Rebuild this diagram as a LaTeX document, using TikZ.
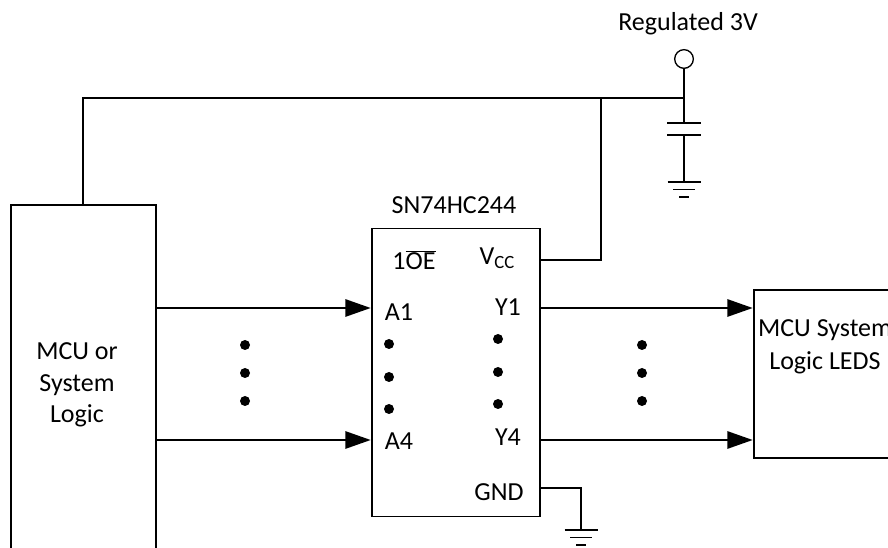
\documentclass[tikz,border=0pt]{standalone}
\usepackage{fontspec}
\setmainfont{Carlito}
\usetikzlibrary{arrows.meta}
\tikzset{
  x=0.75pt,y=-0.75pt,
  wire/.style={line width=1.4pt,line cap=rect},
  thinwire/.style={line width=1.05pt},
  arrowwire/.style={wire,-{Triangle[length=19pt,width=13pt,inset=0pt]},shorten >=1pt},
  blk/.style={draw,line width=1.4pt,outer sep=0pt,inner sep=0pt},
  lbl/.style={inner sep=0pt,font=\fontsize{19.5}{24}\selectfont},
  dotn/.style={circle,fill=black,inner sep=0pt,minimum size=7.5pt},
  gndsym/.pic={
    \draw[thinwire] (-16.5,0)--(16.5,0);
    \draw[thinwire] (-11,7.5)--(11,7.5);
    \draw[thinwire] (-5,15)--(5,15);
  }
}
\begin{document}
\begin{tikzpicture}
\useasboundingbox (0,0) rectangle (888,548);
\clip (0,0) rectangle (888,548);
% blocks
\node[blk,minimum width=108.75pt,minimum height=300pt,anchor=north west] (mcu) at (11,205) {};
\node[blk,minimum width=126pt,minimum height=216pt,anchor=north west] (ic) at (372,228.5) {};
\node[blk,minimum width=150pt,minimum height=126pt,anchor=north west] (led) at (754,290) {};
% labels
\node[lbl,align=center,font=\fontsize{19.5}{23.6}\selectfont] (mcut) at (77,385) {MCU or\\System\\Logic};
\node[lbl,align=center,font=\fontsize{19.5}{25}\selectfont] (ledt) at (825,347) {MCU System\\Logic LEDS};
\node[lbl] (reg) at (688,24) {Regulated 3V};
\node[lbl] (part) at (454,205) {SN74HC244};
\node[lbl] (oe) at (414,260) {1$\overline{\mbox{OE}}$};
\node[lbl] (vcc) at (497,258) {V\raisebox{-3pt}{\fontsize{14}{16}\selectfont CC}};
\node[lbl] (a1t) at (399,312) {A1};
\node[lbl] (a4t) at (399,441) {A4};
\node[lbl] (y1t) at (508,307) {Y1};
\node[lbl] (y4t) at (508,437) {Y4};
\node[lbl] (gndt) at (499,492) {GND};
% dots
\node[dotn] (d1) at (245,345) {};
\node[dotn] (d2) at (245,373) {};
\node[dotn] (d3) at (245,401) {};
\node[dotn] (d4) at (389,344) {};
\node[dotn] (d5) at (389,377) {};
\node[dotn] (d6) at (389,409) {};
\node[dotn] (d7) at (498,339) {};
\node[dotn] (d8) at (498,372) {};
\node[dotn] (d9) at (498,404) {};
\node[dotn] (d10) at (642,345) {};
\node[dotn] (d11) at (642,373) {};
\node[dotn] (d12) at (642,401) {};
% supply
\node[draw,circle,line width=1pt,minimum size=14pt,inner sep=0pt,outer sep=0pt] (vin) at (684,59) {};
\coordinate (j) at (684,98);
\coordinate (t1) at (83,98);
\coordinate (t2) at (601,98);
\coordinate (m1) at (83,205);
\coordinate (v1) at (540,260);
\coordinate (p1) at (684,123);
\coordinate (p2) at (684,135);
\coordinate (g1) at (684,182);
\coordinate (g2) at (581,530);
\coordinate (gs) at (540,488);
\draw[wire] (m1) -- (t1) -- (j);
\draw[wire] (v1) -- (v1 -| t2) -- (t2);
\draw[thinwire] (vin) -- (j) -- (p1);
\draw[thinwire] (p2) -- (g1);
\draw[thinwire] ([xshift=-12.4pt]p1) -- ([xshift=12.4pt]p1);
\draw[thinwire] ([xshift=-12.4pt]p2) -- ([xshift=12.4pt]p2);
\pic at (g1) {gndsym};
\draw[thinwire] (gs) -- (gs -| g2) -- (g2);
\pic at (g2) {gndsym};
% signals
\coordinate (a1) at (372,308);
\coordinate (a4) at (372,440);
\coordinate (y1) at (540,308);
\coordinate (y4) at (540,440);
\draw[arrowwire] (mcu.east |- a1) -- (a1);
\draw[arrowwire] (mcu.east |- a4) -- (a4);
\draw[arrowwire] (y1) -- (led.west |- y1);
\draw[arrowwire] (y4) -- (led.west |- y4);
\end{tikzpicture}
\end{document}
